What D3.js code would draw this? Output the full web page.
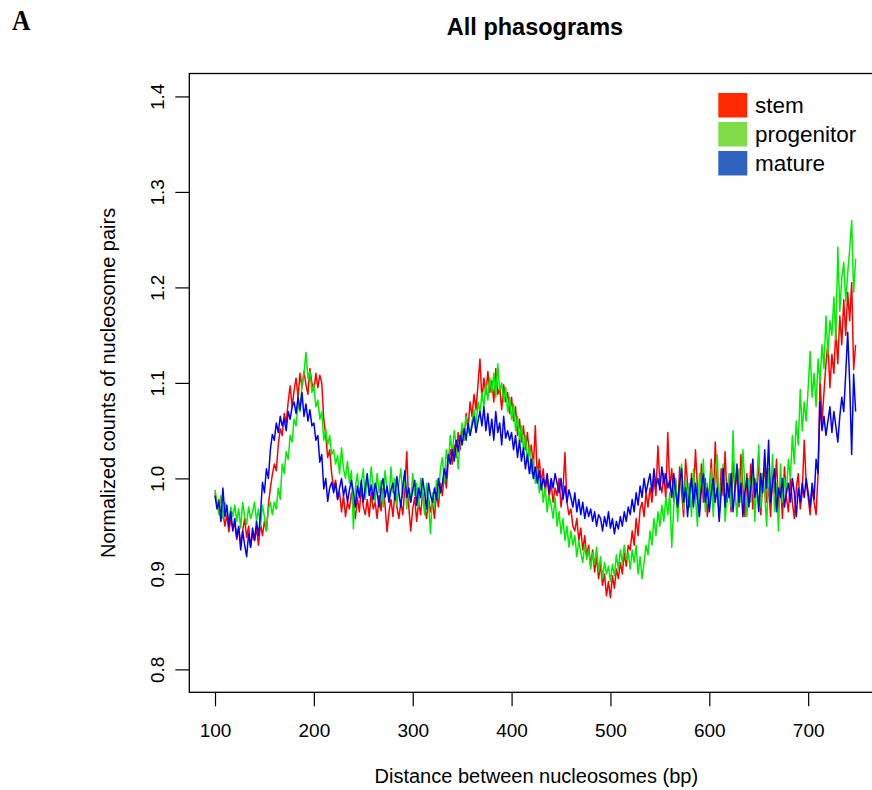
<!DOCTYPE html>
<html><head><meta charset="utf-8">
<script src="https://cdn.jsdelivr.net/npm/d3@7"></script>
<style>body{margin:0;background:#fff}</style>
</head><body>
<svg id="c" width="872" height="790"></svg>
<script>
const xTicks=[100,200,300,400,500,600,700];
const yTicks=[0.8,0.9,1.0,1.1,1.2,1.3,1.4];
const seriesNames=["stem","progenitor","mature"];
const lineColors=["#ff0000","#00ee00","#0000ff"];
const legendColors=["#ff2a00","#7edc48","#2e64c0"];
// distance between nucleosomes (bp), sampled every 2 bp
const distance=d3.range(100,750,2);
const stem=[
.985,.972,.978,.958,.965,.950,.962,.944,.957,.948,
.952,.936,.948,.930,.945,.958,.938,.950,.928,.942,
.935,.948,.930,.952,.940,.955,.945,.972,.990,1.004,
1.015,1.008,1.035,1.052,1.045,1.068,1.058,1.080,1.097,1.075,
1.092,1.105,1.085,1.110,1.095,1.112,1.098,1.088,1.115,1.100,
1.092,1.110,1.095,1.108,1.100,1.062,1.045,1.022,1.030,1.005,
.990,.998,.978,.985,.965,.982,.960,.975,.968,.985,
.972,.958,.980,.965,.990,.970,.962,.978,.960,.985,
.968,.975,.958,.982,.966,.990,.972,.944,.965,.978,
.960,.985,.970,.958,.975,.962,.990,1.028,.970,.945,
.968,.980,.955,.975,.962,.985,.970,.958,.980,.965,
.975,.958,.985,.970,.995,.982,1.005,.990,1.018,1.030,
1.015,1.035,1.022,1.048,1.030,1.055,1.040,1.068,1.052,1.080,
1.065,1.088,1.072,1.098,1.125,1.082,1.105,1.088,1.112,1.090,
1.102,1.080,1.115,1.088,1.095,1.072,1.098,1.080,1.090,1.068,
1.085,1.060,1.075,1.045,1.062,1.038,1.055,1.030,1.048,1.025,
1.035,1.012,1.055,1.000,1.020,.995,1.010,.985,1.002,.980,
.995,.975,.990,.982,1.000,.970,.988,1.027,.975,.962,
.968,.950,.945,.958,.935,.948,.925,.940,.918,.930,
.908,.925,.902,.918,.895,.910,.888,.900,.877,.892,
.875,.898,.885,.905,.895,.912,.900,.922,.908,.930,
.925,.945,.930,.958,.940,.968,.975,.960,.985,.970,
.990,.975,1.000,.982,1.034,.995,.985,1.005,.978,1.048,
.990,1.010,.975,.998,.965,1.012,.985,.960,1.020,.995,
.970,1.005,.980,1.030,.990,.965,1.015,.975,1.000,.960,
.985,1.020,.970,1.038,.995,.960,1.010,.982,1.028,.975,
.995,.965,1.018,.985,1.008,.970,1.025,.990,.960,1.005,
.980,1.015,.968,1.000,.985,1.022,.962,.995,1.010,.975,
.990,.960,1.005,.985,1.020,.970,.995,.958,1.012,.980,
.965,1.000,.975,.958,.990,1.005,.968,.985,1.040,.995,
.980,.962,.990,.975,.962,1.005,1.104,1.060,1.090,1.120,
1.142,1.095,1.130,1.110,1.155,1.120,1.170,1.140,1.187,1.150,
1.195,1.165,1.205,1.114,1.140];
const progenitor=[
.988,.975,.962,.982,.958,.975,.965,.955,.970,.960,
.972,.955,.968,.948,.975,.960,.952,.970,.958,.965,
.975,.955,.968,.950,.972,.960,.945,.968,.975,.962,
.975,.968,.990,.978,1.015,1.005,1.028,1.020,1.045,1.038,
1.062,1.055,1.078,1.070,1.098,1.110,1.132,1.105,1.112,1.090,
1.098,1.075,1.082,1.062,1.070,1.040,1.052,1.035,1.045,1.025,
1.030,1.015,1.024,1.005,1.032,1.010,1.000,1.018,.995,1.008,
.947,.990,1.005,.982,.995,1.010,.978,1.000,.985,1.012,
.990,.975,1.005,.985,.998,.970,1.008,.990,.978,1.012,
.985,1.000,.972,.995,1.010,.980,1.002,.968,.990,.975,
1.005,.982,.995,.970,1.000,.985,.962,.995,.975,.942,
.985,.970,.998,.980,1.010,1.022,.995,1.030,1.015,1.045,
1.025,1.050,1.035,1.010,1.042,1.058,1.040,1.065,1.050,1.045,
1.060,1.072,1.055,1.080,1.068,1.090,1.075,1.098,1.082,1.105,
1.090,1.110,1.085,1.120,1.092,1.100,1.080,1.095,1.070,1.085,
1.062,1.078,1.050,1.065,1.040,1.055,1.030,1.045,1.018,1.035,
1.005,1.020,.995,1.010,.985,1.000,.975,.990,.965,.982,
.972,.958,.980,.950,.965,.942,.958,.935,.950,.928,
.945,.930,.940,.918,.935,.922,.912,.930,.915,.925,
.905,.922,.910,.928,.902,.918,.895,.912,.900,.908,
.892,.910,.898,.920,.905,.925,.912,.930,.915,.922,
.905,.925,.912,.930,.900,.918,.895,.912,.930,.920,
.945,.930,.958,.940,.965,.950,.972,.955,.980,.962,
.985,.928,.970,1.000,.955,.990,1.015,.968,1.000,.975,
.995,.960,1.010,.980,.950,1.005,.985,1.020,.965,.995,
.975,1.010,.960,1.000,1.025,.970,.990,1.015,.955,.985,
1.005,.970,1.050,.985,.960,1.010,.975,1.030,.990,.960,
1.000,.975,1.020,.955,.995,1.035,.970,1.005,.985,.950,
1.010,.980,1.025,.965,.995,.945,1.015,.975,1.000,.985,
1.020,1.000,1.045,1.015,1.060,1.035,1.093,1.050,1.080,1.060,
1.095,1.133,1.085,1.110,1.075,1.125,1.100,1.140,1.115,1.170,
1.130,1.165,1.150,1.190,1.145,1.242,1.175,1.210,1.226,1.185,
1.215,1.240,1.270,1.195,1.230];
const mature=[
.982,.968,.975,.955,.990,.960,.972,.950,.965,.945,
.958,.938,.950,.925,.945,.930,.918,.942,.928,.948,
.935,.955,.940,.962,.996,.985,1.010,1.000,1.030,1.046,
1.040,1.058,1.048,1.065,1.055,1.062,1.050,1.070,1.062,1.075,
1.080,1.068,1.085,1.072,1.090,1.065,1.078,1.060,1.072,1.055,
1.058,1.040,1.045,1.017,1.025,.989,1.000,.976,.990,.996,
.985,.995,.978,.990,1.000,.982,.992,.975,.988,.998,
.985,.970,.992,.980,.998,.975,.990,1.005,.982,.993,
.978,.995,.985,.970,.990,1.000,.980,.992,.975,.988,
.995,.978,1.002,.985,.970,.992,1.008,.980,.990,.975,
.988,.998,.972,.990,.980,1.000,.985,.968,.995,.982,
.975,.990,.978,1.000,.985,.995,1.010,1.000,1.025,1.015,
1.030,1.018,1.040,1.028,1.045,1.035,1.052,1.040,1.058,1.045,
1.055,1.065,1.048,1.060,1.070,1.055,1.075,1.050,1.068,1.045,
1.062,1.040,1.070,1.048,1.058,1.035,1.065,1.042,1.050,1.040,
1.048,1.030,1.045,1.022,1.040,1.018,1.032,1.010,1.025,1.005,
1.020,1.000,1.012,.995,1.008,.988,1.000,.992,1.005,.985,
1.000,.990,1.005,.995,.985,1.000,.978,.992,.975,.988,
.980,.970,.985,.965,.978,.962,.975,.958,.970,.960,
.968,.955,.965,.950,.962,.958,.945,.960,.950,.965,
.948,.958,.942,.955,.947,.960,.950,.965,.955,.970,
.962,.978,.965,.985,.972,.992,.980,1.000,.985,.995,
1.005,.985,1.010,.992,1.000,.988,1.012,.995,1.005,.990,
.998,.980,1.005,.985,.970,.995,1.010,.975,.990,.960,
.985,1.000,.970,.995,.978,.960,.990,1.005,.975,.990,
.965,.985,1.000,.975,.990,.955,.985,1.010,.970,.995,
.980,1.005,.965,.990,1.015,.975,.995,.960,.985,1.000,
.970,.990,1.020,.980,.995,.965,1.005,.985,1.030,.990,
1.040,.975,.995,1.010,.965,.990,.980,1.000,.970,.985,
.995,.975,1.000,.985,.960,.990,.975,.995,.980,1.000,
.985,.970,.995,.978,1.020,1.005,1.080,1.050,1.065,1.045,
1.060,1.075,1.048,1.070,1.055,1.038,1.065,1.085,1.070,1.110,
1.153,1.100,1.025,1.109,1.070];
const seriesValues=[stem,progenitor,mature];

const svg=d3.select("#c");
const FONT="'Liberation Sans', Arial, Helvetica, sans-serif";
const L=189.3,R=883.3,T=73.5,B=692.3;
const x=d3.scaleLinear().domain([74,776]).range([L,R]);
const y=d3.scaleLinear().domain([0.776,1.424]).range([B,T]);

// lines
const line=d3.line().x((d,i)=>x(distance[i])).y(d=>y(d));
seriesValues.forEach((vals,k)=>{
  svg.append("path").datum(vals).attr("d",line)
    .attr("fill","none").attr("stroke",lineColors[k])
    .attr("stroke-width",1.5).attr("stroke-linejoin","round");
});

// box
svg.append("rect").attr("x",L).attr("y",T).attr("width",R-L).attr("height",B-T)
  .attr("fill","none").attr("stroke","#000").attr("stroke-width",1.3);

// x axis
const gx=svg.append("g").attr("transform",`translate(0,${B})`)
  .call(d3.axisBottom(x).tickValues(xTicks).tickSize(14).tickPadding(17).tickFormat(d3.format("d")));
gx.select(".domain").remove();
gx.selectAll("line").attr("stroke","#000").attr("stroke-width",1.2);
gx.selectAll("text").attr("font-family",FONT).attr("font-size",19).attr("fill","#000");

// y axis
const gy=svg.append("g").attr("transform",`translate(${L},0)`)
  .call(d3.axisLeft(y).tickValues(yTicks).tickSize(14).tickFormat(d3.format(".1f")));
gy.select(".domain").remove();
gy.selectAll("line").attr("stroke","#000").attr("stroke-width",1.2);
gy.selectAll("text").attr("x",null).attr("dy",null)
  .attr("transform",`translate(${164-L},0) rotate(-90)`)
  .attr("text-anchor","middle")
  .attr("font-family",FONT).attr("font-size",19).attr("fill","#000");

// axis titles
svg.append("text").attr("x",(L+R)/2).attr("y",783).attr("text-anchor","middle")
  .attr("font-family",FONT).attr("font-size",20).text("Distance between nucleosomes (bp)");
svg.append("text").attr("transform",`translate(115,${(T+B)/2}) rotate(-90)`).attr("text-anchor","middle")
  .attr("font-family",FONT).attr("font-size",20).text("Normalized counts of nucleosome pairs");

// title
svg.append("text").attr("x",535).attr("y",35).attr("text-anchor","middle")
  .attr("font-family",FONT).attr("font-weight","bold").attr("font-size",23.5).text("All phasograms");
svg.append("text").attr("transform","translate(12,30) scale(0.85,1)")
  .attr("font-family","'Liberation Serif', 'DejaVu Serif', serif").attr("font-weight","bold")
  .attr("font-size",30).text("A");

// legend
const lg=svg.append("g");
seriesNames.forEach((n,i)=>{
  lg.append("rect").attr("x",718.3).attr("y",93+29*i).attr("width",29).attr("height",24.5)
    .attr("fill",legendColors[i]);
  lg.append("text").attr("x",755).attr("y",112.5+29*i)
    .attr("font-family",FONT).attr("font-size",22.5).attr("fill","#000").text(n);
});
</script>
</body></html>
